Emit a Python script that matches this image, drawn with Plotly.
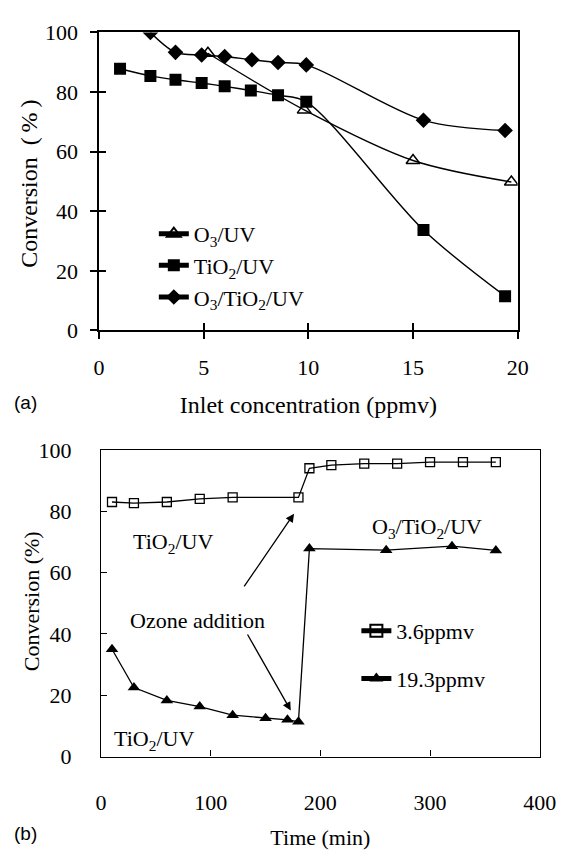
import plotly.graph_objects as go

# ---------------- data: panel (a) ----------------
o3uv_x = [5.2, 9.8, 15.0, 19.7]
o3uv_y = [93.0, 74.0, 57.0, 49.8]

tio2uv_x = [1.0, 2.45, 3.65, 4.9, 6.0, 7.25, 8.55, 9.9, 15.5, 19.4]
tio2uv_y = [87.8, 85.4, 84.1, 83.0, 81.9, 80.5, 78.9, 76.7, 33.7, 11.5]

o3tio2uv_x = [2.45, 3.65, 4.9, 6.0, 7.3, 8.55, 9.9, 15.5, 19.4]
o3tio2uv_y = [100.0, 93.3, 92.4, 91.9, 90.8, 89.9, 89.1, 70.5, 67.1]

# ---------------- data: panel (b) ----------------
t_36 = [10, 30, 60, 90, 120, 180, 190, 210, 240, 270, 300, 330, 360]
c_36 = [83.0, 82.6, 83.0, 84.0, 84.5, 84.5, 94.0, 95.0, 95.5, 95.5, 96.0, 96.0, 96.0]

t_193 = [10, 30, 60, 90, 120, 150, 170, 180, 190, 260, 320, 360]
c_193 = [35.0, 22.5, 18.3, 16.3, 13.5, 12.5, 12.0, 11.4, 67.8, 67.3, 68.6, 67.2]

names_a = ["O<sub>3</sub>/UV", "TiO<sub>2</sub>/UV", "O<sub>3</sub>/TiO<sub>2</sub>/UV"]
names_b = ["3.6ppmv", "19.3ppmv"]

SERIF = "Liberation Serif"
SANS = "Liberation Sans"
FS = 22
W, H = 574, 856

def px(x):
    return x / W

def py(y):
    return 1 - y / H

fig = go.Figure()

# panel (a)
fig.add_trace(go.Scatter(
    x=o3uv_x, y=o3uv_y, name=names_a[0], mode="lines+markers",
    line=dict(color="black", width=1.4, shape="spline", smoothing=0.9),
    marker=dict(symbol="triangle-up-open", size=12, color="black", line=dict(width=1.5)),
    xaxis="x", yaxis="y", legend="legend"))
fig.add_trace(go.Scatter(
    x=tio2uv_x, y=tio2uv_y, name=names_a[1], mode="lines+markers",
    line=dict(color="black", width=1.4, shape="spline", smoothing=0.9),
    marker=dict(symbol="square", size=12, color="black"),
    xaxis="x", yaxis="y", legend="legend"))
fig.add_trace(go.Scatter(
    x=o3tio2uv_x, y=o3tio2uv_y, name=names_a[2], mode="lines+markers",
    line=dict(color="black", width=1.4, shape="spline", smoothing=0.9),
    marker=dict(symbol="diamond", size=12, color="black"),
    xaxis="x", yaxis="y", legend="legend"))
# dummy trace for inner-tick overlay axes
fig.add_trace(go.Scatter(x=[None], y=[None], showlegend=False, hoverinfo="skip",
                         xaxis="x3", yaxis="y3"))

# panel (b)
fig.add_trace(go.Scatter(
    x=t_36, y=c_36, name=names_b[0], mode="lines+markers",
    line=dict(color="black", width=1.3),
    marker=dict(symbol="square-open", size=9, color="black", line=dict(width=1.3)),
    xaxis="x2", yaxis="y2", legend="legend2", legendgroup="g1"))
fig.add_trace(go.Scatter(
    x=t_193, y=c_193, name=names_b[1], mode="lines+markers",
    line=dict(color="black", width=1.3),
    marker=dict(symbol="triangle-up", size=11, color="black"),
    xaxis="x2", yaxis="y2", legend="legend2", legendgroup="g2"))

axfont = dict(family=SERIF, size=FS, color="black")
titlefont = dict(family=SERIF, size=24, color="black")

dom_ax = [px(97), px(533)]
dom_ay = [py(328), py(21)]
dom_bx = [px(99), px(556)]
dom_by = [py(767), py(451)]

fig.update_layout(
    width=W, height=H, margin=dict(l=0, r=0, t=0, b=0),
    paper_bgcolor="white", plot_bgcolor="white",
    showlegend=True,
    font=axfont,
    xaxis=dict(domain=dom_ax, range=[0, 20], dtick=5, anchor="y",
               showline=True, linecolor="black", linewidth=1.5, mirror=True,
               ticks="outside", ticklen=7, tickwidth=1.5, tickcolor="black",
               showgrid=False, zeroline=False, tickfont=axfont, ticklabelstandoff=9,
               title=dict(text="Inlet concentration (ppmv)", font=titlefont, standoff=18)),
    yaxis=dict(domain=dom_ay, range=[0, 100], dtick=20, anchor="x",
               showline=True, linecolor="black", linewidth=1.5, mirror=True,
               ticks="outside", ticklen=7, tickwidth=1.5, tickcolor="black",
               showgrid=False, zeroline=False, tickfont=axfont, ticklabelstandoff=8),
    xaxis3=dict(domain=dom_ax, range=[0, 20], dtick=5, anchor="y3", overlaying="x",
                showline=False, ticks="inside", ticklen=7, tickwidth=1.5, tickcolor="black",
                showticklabels=False, showgrid=False, zeroline=False),
    yaxis3=dict(domain=dom_ay, range=[0, 100], dtick=20, anchor="x3", overlaying="y",
                showline=False, ticks="inside", ticklen=7, tickwidth=1.5, tickcolor="black",
                showticklabels=False, showgrid=False, zeroline=False),
    xaxis2=dict(domain=dom_bx, range=[0, 400], dtick=100, anchor="y2",
                showline=True, linecolor="black", linewidth=1.3, mirror=True,
                ticks="inside", ticklen=6, tickwidth=1.3, tickcolor="black",
                showgrid=False, zeroline=False, tickfont=axfont, ticklabelstandoff=26,
                title=dict(text="Time (min)", font=axfont, standoff=15)),
    yaxis2=dict(domain=dom_by, range=[0, 100], dtick=20, anchor="x2",
                showline=True, linecolor="black", linewidth=1.3, mirror=True,
                ticks="inside", ticklen=6, tickwidth=1.3, tickcolor="black",
                showgrid=False, zeroline=False, tickfont=axfont, ticklabelstandoff=24),
    legend=dict(x=px(154), y=py(207), xanchor="left", yanchor="top",
                bgcolor="rgba(0,0,0,0)", borderwidth=0, font=axfont,
                tracegroupgap=0, itemsizing="constant"),
    legend2=dict(x=px(365), y=py(616), xanchor="left", yanchor="top",
                 bgcolor="rgba(0,0,0,0)", borderwidth=0, font=axfont,
                 tracegroupgap=16, itemsizing="constant"),
)

ann = []
# y-axis titles
ann.append(dict(text="Conversion\u2002(\u2009%\u2009)", x=px(24), y=py(177),
                xref="paper", yref="paper", textangle=-90, xanchor="center",
                yanchor="middle", showarrow=False, font=titlefont))
ann.append(dict(text="Conversion (%)", x=px(26), y=py(607),
                xref="paper", yref="paper", textangle=-90, xanchor="center",
                yanchor="middle", showarrow=False, font=axfont))
# panel labels
ann.append(dict(text="(a)", x=px(6), y=py(402), xref="paper", yref="paper",
                xanchor="left", yanchor="middle", showarrow=False,
                font=dict(family=SANS, size=19, color="black")))
ann.append(dict(text="(b)", x=px(6), y=py(846), xref="paper", yref="paper",
                xanchor="left", yanchor="middle", showarrow=False,
                font=dict(family=SANS, size=19, color="black")))
# in-plot labels for (b)
ann.append(dict(text="TiO<sub>2</sub>/UV", x=66, y=69.5, xref="x2", yref="y2",
                showarrow=False, font=axfont))
ann.append(dict(text="O<sub>3</sub>/TiO<sub>2</sub>/UV", x=297, y=74.5, xref="x2", yref="y2",
                showarrow=False, font=axfont))
ann.append(dict(text="Ozone addition", x=88, y=44.5, xref="x2", yref="y2",
                showarrow=False, font=axfont))
ann.append(dict(text="TiO<sub>2</sub>/UV", x=48.5, y=5.5, xref="x2", yref="y2",
                showarrow=False, font=axfont))
# arrows
ann.append(dict(text="", x=176, y=79.2, ax=129.6, ay=55, xref="x2", yref="y2",
                axref="x2", ayref="y2", showarrow=True, arrowhead=2, arrowsize=1.3,
                arrowwidth=1.3, arrowcolor="black"))
ann.append(dict(text="", x=173, y=15, ax=132.8, ay=40.3, xref="x2", yref="y2",
                axref="x2", ayref="y2", showarrow=True, arrowhead=2, arrowsize=1.3,
                arrowwidth=1.3, arrowcolor="black"))
fig.update_layout(annotations=ann)

fig.write_html("out.html")
